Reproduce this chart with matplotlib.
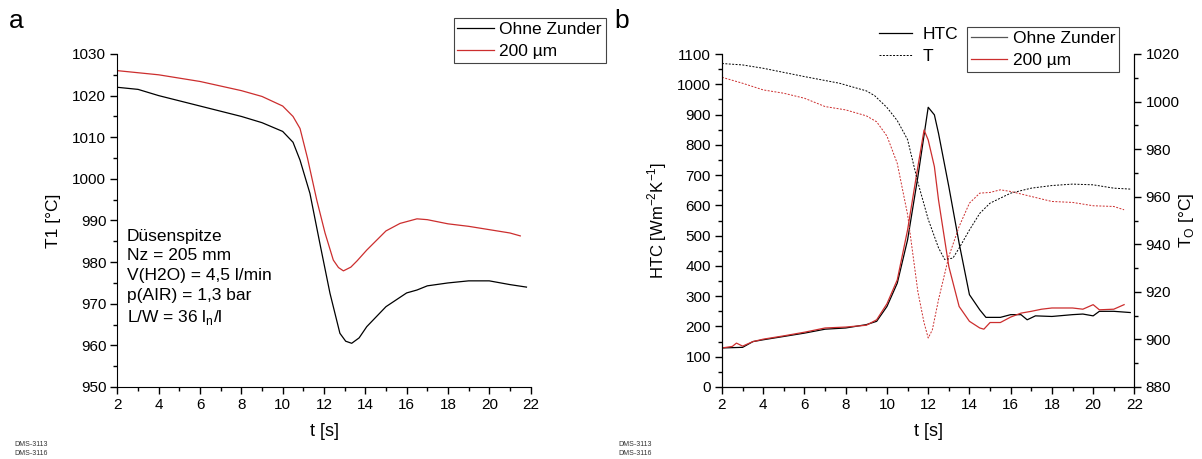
import matplotlib.pyplot as plt
from matplotlib.lines import Line2D
from matplotlib.ticker import MultipleLocator

plt.rcParams['font.family'] = ['Liberation Sans', 'DejaVu Sans']

# Panel a: T1 over time
t_a_black = [2, 3, 4, 6, 8, 9, 10, 10.5, 10.84, 11.32, 11.8, 12.29, 12.77, 13.05, 13.34, 13.7, 14.07, 15,
             16, 16.5, 17, 18, 19, 20, 21, 21.8]
T1_black = [1022, 1021.5, 1020, 1017.5, 1015, 1013.5, 1011.4, 1008.8, 1004.5, 996.5, 984.5, 972.5, 962.9,
            961, 960.5, 961.8, 964.5, 969.3, 972.6, 973.3, 974.3, 975, 975.5, 975.5, 974.6, 974]
t_a_red = [2, 4, 6, 8, 9, 10, 10.5, 10.84, 11.2, 11.65, 12.05, 12.45, 12.7, 12.94, 13.3, 13.6, 14.07, 15,
           15.68, 16.5, 17, 18, 19, 20, 21, 21.5]
T1_red = [1026, 1025, 1023.4, 1021.2, 1019.8, 1017.5, 1015, 1012.1, 1005, 994.9, 987, 980.5, 978.7, 977.9,
          978.8, 980.3, 982.9, 987.5, 989.3, 990.4, 990.2, 989.2, 988.6, 987.8, 987, 986.3]

# Panel b: HTC and surface temperature
t_htc_black = [2, 3, 3.5, 4, 5, 6, 7, 8, 9, 9.5, 10, 10.5, 11, 11.5, 12, 12.3, 12.5, 13, 13.5, 14, 14.5,
               14.8, 15.5, 16, 16.5, 16.8, 17.2, 18, 19, 19.5, 20, 20.3, 21, 21.8]
htc_black = [129, 131, 150, 156, 167, 178, 191, 195, 206, 217, 266, 343, 486, 695, 924, 899, 838, 662, 475,
             305, 255, 230, 230, 239, 239, 222, 235, 233, 239, 241, 235, 250, 250, 246]
t_htc_red = [2, 2.5, 2.7, 3, 3.5, 4, 5, 6, 7, 8, 9, 9.5, 10, 10.5, 11, 11.5, 11.8, 12, 12.3, 12.5, 13, 13.5,
             14, 14.5, 14.7, 15, 15.5, 16, 16.5, 17, 17.5, 18, 19, 19.5, 20, 20.3, 21, 21.5]
htc_red = [129, 134, 145, 135, 150, 158, 169, 181, 195, 198, 204, 222, 275, 354, 519, 728, 849, 816, 728, 618,
           398, 266, 217, 195, 191, 213, 213, 231, 244, 250, 257, 261, 261, 257, 272, 255, 257, 272]
t_T_black = [2, 3, 4, 6, 7.7, 9, 9.4, 10, 10.5, 11, 11.5, 12, 12.5, 12.8, 13.2, 13.5, 14, 14.5, 15, 16, 17, 18,
             19, 20, 21, 21.8]
T_black = [1016, 1015.4, 1014, 1010.5, 1007.7, 1004.5, 1002.5, 997.5, 992, 984, 966, 950.5, 938.5, 933.6,
           934.2, 938.4, 946, 953, 957.3, 961.5, 963.6, 964.7, 965.3, 965, 963.6, 963.2]
t_T_red = [2, 3, 4, 5, 6, 7, 8, 9, 9.5, 10, 10.5, 11, 11.5, 11.8, 12, 12.2, 12.5, 13, 13.5, 14, 14.5, 15,
           15.5, 16, 17, 18, 19, 20, 21, 21.5]
T_red = [1010.2, 1007.7, 1004.9, 1003.5, 1001.4, 997.9, 996.5, 994, 991.5, 985.5, 974, 952.5, 920, 907,
         900.6, 904, 916.7, 934.9, 947.5, 957.3, 961.5, 961.8, 962.9, 962.2, 960.1, 958, 957.6, 956.2,
         955.9, 954.5]

red = '#cc2e2e'

fig = plt.figure(figsize=(12.02, 4.59), dpi=100)
ax1 = fig.add_axes([117.4 / 1202, 1 - 387 / 459, 413.2 / 1202, 333 / 459])
ax2 = fig.add_axes([722 / 1202, 1 - 387 / 459, 412.4 / 1202, 333 / 459])
ax3 = ax2.twinx()


def style(ax, right=False):
    ax.spines['top'].set_visible(False)
    if not right:
        ax.spines['right'].set_visible(False)
    ax.tick_params(which='major', direction='out', length=5, width=1, labelsize=11, pad=3)
    ax.tick_params(which='minor', direction='out', length=3, width=1)


def box_legend(handles, labels, x, y):
    leg = fig.legend(handles=handles, labels=labels, loc='upper left',
                     bbox_to_anchor=(x / 1202, 1 - y / 459), fontsize=12.5, fancybox=False,
                     edgecolor='#444444', framealpha=1, borderpad=0.23, handlelength=2.1,
                     handletextpad=0.3, labelspacing=0.4, borderaxespad=0)
    leg.get_frame().set_linewidth(0.8)
    return leg


# --- a ---
ax1.plot(t_a_black, T1_black, color='black', lw=0.9)
ax1.plot(t_a_red, T1_red, color=red, lw=0.9)
ax1.set_xlim(2, 22)
ax1.set_ylim(950, 1030)
ax1.xaxis.set_major_locator(MultipleLocator(2))
ax1.xaxis.set_minor_locator(MultipleLocator(1))
ax1.yaxis.set_major_locator(MultipleLocator(10))
ax1.yaxis.set_minor_locator(MultipleLocator(5))
style(ax1)
ax1.set_xlabel('t [s]', fontsize=13, labelpad=8)
ax1.set_ylabel('T1 [°C]', fontsize=12.5, labelpad=8)
ax1.text(2.46, 988.0, 'Düsenspitze\nNz = 205 mm\nV(H2O) = 4,5 l/min\np(AIR) = 1,3 bar\n'
         r'L/W = 36 l$_\mathregular{n}$/l', fontsize=12.5, va='top', linespacing=1.38)

box_legend([Line2D([], [], color='black', lw=0.9), Line2D([], [], color=red, lw=0.9)],
           ['Ohne Zunder', '200 µm'], 453.5, 18)

# --- b ---
ax2.plot(t_htc_black, htc_black, color='black', lw=0.9)
ax2.plot(t_htc_red, htc_red, color=red, lw=0.9)
ax3.plot(t_T_black, T_black, color='black', lw=0.7, ls=(0, (2, 1.5)))
ax3.plot(t_T_red, T_red, color=red, lw=0.7, ls=(0, (2, 1.5)))
ax2.set_xlim(2, 22)
ax2.set_ylim(0, 1100)
ax3.set_ylim(880, 1020)
ax2.xaxis.set_major_locator(MultipleLocator(2))
ax2.xaxis.set_minor_locator(MultipleLocator(1))
ax2.yaxis.set_major_locator(MultipleLocator(100))
ax2.yaxis.set_minor_locator(MultipleLocator(50))
ax3.yaxis.set_major_locator(MultipleLocator(20))
ax3.yaxis.set_minor_locator(MultipleLocator(10))
style(ax2, right=True)
style(ax3, right=True)
ax2.set_xlabel('t [s]', fontsize=13, labelpad=8)
ax2.set_ylabel(r'HTC [Wm$^\mathregular{-2}$K$^\mathregular{-1}$]', fontsize=12, labelpad=6)
ax3.set_ylabel(r'T$_\mathregular{O}$ [°C]', fontsize=12.5, labelpad=-1.5)

fig.legend(handles=[Line2D([], [], color='black', lw=0.9),
                    Line2D([], [], color='black', lw=0.7, ls=(0, (2, 1.5)))],
           labels=['HTC', 'T'], loc='upper left', bbox_to_anchor=(876 / 1202, 1 - 24 / 459),
           fontsize=12.5, frameon=False, borderpad=0.15, handlelength=1.9,
           handletextpad=0.63, labelspacing=0.4, borderaxespad=0)
box_legend([Line2D([], [], color='#555555', lw=0.9), Line2D([], [], color=red, lw=0.9)],
           ['Ohne Zunder', '200 µm'], 967, 27)

# panel letters and footnotes
fig.text(9 / 1202, 1 - 28 / 459, 'a', fontsize=19)
fig.text(614 / 1202, 1 - 28 / 459, 'b', fontsize=19)
for x0 in (14, 618):
    fig.text(x0 / 1202, 1 - 455 / 459, 'DMS-3113\nDMS-3116', fontsize=5, color='#333333', linespacing=1.3)

fig.savefig('out.png', dpi=100)
